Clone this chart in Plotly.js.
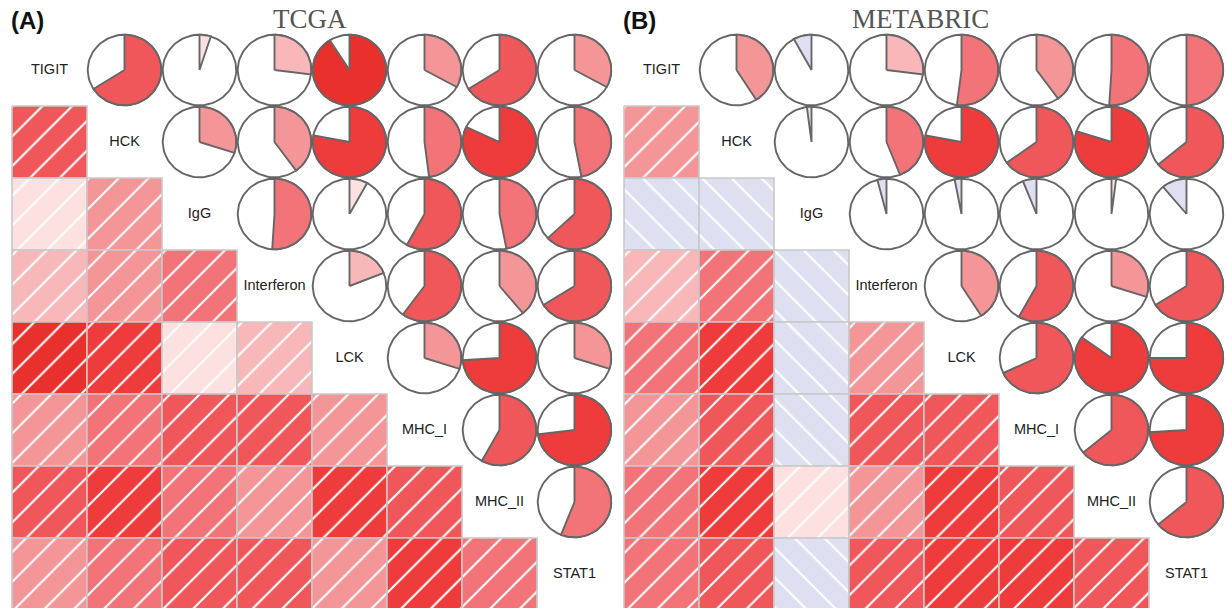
<!DOCTYPE html>
<html>
<head>
<meta charset="utf-8">
<script src="https://cdn.plot.ly/plotly-3.0.1.min.js"></script>
<style>
  html, body { margin: 0; padding: 0; background: #fff; }
  #chart { width: 1226px; height: 608px; }
</style>
</head>
<body>
<div id="chart"></div>
<script>
// Immune signature variables, in display order
const variables = ['TIGIT', 'HCK', 'IgG', 'Interferon', 'LCK', 'MHC_I', 'MHC_II', 'STAT1'];

// TCGA correlations: each row holds r with the variables that follow it
const tcgaTIGIT      = [0.66, 0.05, 0.27, 0.91, 0.33, 0.66, 0.33];
const tcgaHCK        = [0.30, 0.40, 0.78, 0.48, 0.82, 0.47];
const tcgaIgG        = [0.51, 0.08, 0.58, 0.47, 0.63];
const tcgaInterferon = [0.19, 0.60, 0.39, 0.66];
const tcgaLCK        = [0.30, 0.74, 0.30];
const tcgaMHC_I      = [0.58, 0.73];
const tcgaMHC_II     = [0.56];

// METABRIC correlations, same layout
const metaTIGIT      = [0.41, -0.08, 0.27, 0.52, 0.40, 0.51, 0.50];
const metaHCK        = [-0.02, 0.44, 0.78, 0.65, 0.80, 0.64];
const metaIgG        = [-0.04, -0.03, -0.06, 0.02, -0.11];
const metaInterferon = [0.41, 0.58, 0.30, 0.66];
const metaLCK        = [0.68, 0.85, 0.75];
const metaMHC_I      = [0.64, 0.74];
const metaMHC_II     = [0.64];

const tcgaRows = [tcgaTIGIT, tcgaHCK, tcgaIgG, tcgaInterferon, tcgaLCK, tcgaMHC_I, tcgaMHC_II];
const metaRows = [metaTIGIT, metaHCK, metaIgG, metaInterferon, metaLCK, metaMHC_I, metaMHC_II];

// 14-step diverging palette over [-1, 1] (negative -> positive)
const negColors = ['#2a3590', '#4a56a8', '#6f79bd', '#959dd0', '#b5bbdf', '#cdd1ea', '#dee0f1'];
const posColors = ['#fde1e1', '#f8b8ba', '#f49597', '#f27378', '#f0575b', '#ee3b3b', '#e8302c'];
const palette = negColors.concat(posColors);

function shade(r) {
  const n = palette.length;
  let k = Math.floor((r + 1) / 2 * n);
  if (k >= n) k = n - 1;
  if (k < 0) k = 0;
  return palette[k];
}

function fullMatrix(rows) {
  const n = variables.length;
  const m = [];
  for (let i = 0; i < n; i++) { m.push(new Array(n).fill(1)); }
  rows.forEach((vals, i) => {
    vals.forEach((v, k) => {
      const j = i + 1 + k;
      m[i][j] = v;
      m[j][i] = v;
    });
  });
  return m;
}

const RX = 0.49, RY = 0.49, STEPS = 90;
const borderGray = '#666666';

function panelTraces(rows, xa, ya) {
  const m = fullMatrix(rows);
  const n = variables.length;
  const traces = [];
  for (let i = 0; i < n; i++) {
    for (let j = 0; j < n; j++) {
      const r = m[i][j];
      const cx = j + 0.5, cy = i + 0.5;
      if (j < i) {
        // shaded, hatched square
        traces.push({
          type: 'scatter', mode: 'lines', xaxis: xa, yaxis: ya,
          x: [j, j + 1, j + 1, j, j], y: [i, i, i + 1, i + 1, i],
          fill: 'toself', fillcolor: shade(r),
          fillpattern: { shape: r >= 0 ? '/' : '\\', fgcolor: '#ffffff', bgcolor: shade(r),
                         size: 21, solidity: 0.1 },
          line: { color: '#c9c9c9', width: 1.6 },
          hoverinfo: 'skip'
        });
      } else if (j > i) {
        // pie: white disc, then wedge covering |r| of the circle
        const cxs = [], cys = [];
        for (let s = 0; s <= STEPS; s++) {
          const t = 2 * Math.PI * s / STEPS;
          cxs.push(cx + RX * Math.sin(t));
          cys.push(cy - RY * Math.cos(t));
        }
        traces.push({
          type: 'scatter', mode: 'lines', xaxis: xa, yaxis: ya,
          x: cxs, y: cys, fill: 'toself', fillcolor: '#ffffff',
          line: { color: borderGray, width: 1.9 }, hoverinfo: 'skip'
        });
        const dir = r >= 0 ? 1 : -1;
        const span = 2 * Math.PI * Math.abs(r);
        const steps = Math.max(2, Math.ceil(STEPS * Math.abs(r)));
        const wx = [cx], wy = [cy];
        for (let s = 0; s <= steps; s++) {
          const t = span * s / steps;
          wx.push(cx + dir * RX * Math.sin(t));
          wy.push(cy - RY * Math.cos(t));
        }
        wx.push(cx); wy.push(cy);
        traces.push({
          type: 'scatter', mode: 'lines', xaxis: xa, yaxis: ya,
          x: wx, y: wy, fill: 'toself', fillcolor: shade(r),
          line: { color: borderGray, width: 1.9 }, hoverinfo: 'skip'
        });
      }
    }
  }
  // variable names on the diagonal
  traces.push({
    type: 'scatter', mode: 'text', xaxis: xa, yaxis: ya,
    x: variables.map((_, i) => i + 0.5), y: variables.map((_, i) => i + 0.5),
    text: variables, textposition: 'middle center',
    textfont: { family: 'Liberation Sans, Arial, sans-serif', size: 14.5, color: '#222' },
    hoverinfo: 'skip'
  });
  return traces;
}

const data = panelTraces(tcgaRows, 'x', 'y').concat(panelTraces(metaRows, 'x2', 'y2'));

const hidden = { visible: false, fixedrange: true };
const layout = {
  width: 1226, height: 608,
  margin: { l: 0, r: 0, t: 0, b: 0 },
  paper_bgcolor: '#ffffff', plot_bgcolor: 'rgba(0,0,0,0)',
  showlegend: false,
  xaxis:  Object.assign({ domain: [0, 0.5], range: [-0.16, 8.0133] }, hidden),
  yaxis:  Object.assign({ domain: [0, 1], range: [7.9722, -0.4722] }, hidden),
  xaxis2: Object.assign({ domain: [0.5, 1], range: [-0.1467, 8.0267] }, hidden),
  yaxis2: Object.assign({ domain: [0, 1], range: [7.9722, -0.4722] }, hidden),
  annotations: [
    { text: 'TCGA', xref: 'paper', yref: 'paper', x: 310 / 1226, y: 1 - 19 / 608,
      xanchor: 'center', yanchor: 'middle', showarrow: false,
      font: { family: 'Liberation Serif, Times New Roman, serif', size: 27, color: '#555' } },
    { text: 'METABRIC', xref: 'paper', yref: 'paper', x: 920 / 1226, y: 1 - 19 / 608,
      xanchor: 'center', yanchor: 'middle', showarrow: false,
      font: { family: 'Liberation Serif, Times New Roman, serif', size: 27, color: '#555' } },
    { text: '<b>(A)</b>', xref: 'paper', yref: 'paper', x: 9 / 1226, y: 1 - 20 / 608,
      xanchor: 'left', yanchor: 'middle', showarrow: false,
      font: { family: 'Liberation Sans, Arial, sans-serif', size: 24, color: '#111' } },
    { text: '<b>(B)</b>', xref: 'paper', yref: 'paper', x: 621 / 1226, y: 1 - 20 / 608,
      xanchor: 'left', yanchor: 'middle', showarrow: false,
      font: { family: 'Liberation Sans, Arial, sans-serif', size: 24, color: '#111' } }
  ]
};

Plotly.newPlot('chart', data, layout, { staticPlot: true, displayModeBar: false });
</script>
</body>
</html>
